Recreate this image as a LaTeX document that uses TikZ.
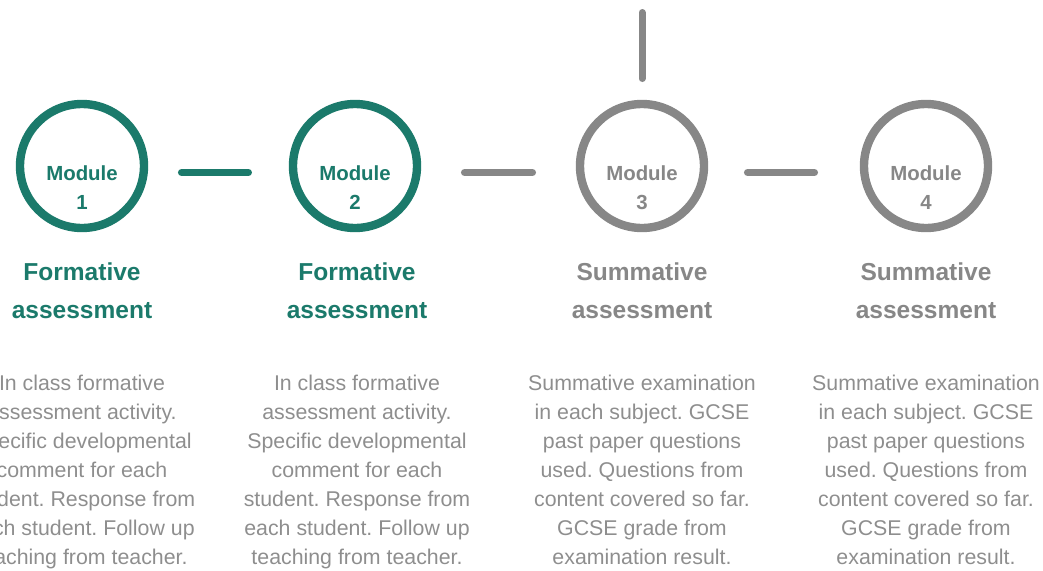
\documentclass[tikz,border=0pt]{standalone}
\usepackage{fontspec}
\setmainfont{Liberation Sans}
\usetikzlibrary{positioning}
\frenchspacing
\definecolor{modteal}{HTML}{1B7A6B}
\definecolor{modgrey}{HTML}{878787}
\definecolor{blurbgrey}{HTML}{8E8E8E}
\tikzset{
  ring/.style={circle, draw=#1, line width=6.3pt, minimum size=93pt, inner sep=0pt, outer sep=0pt},
  link/.style={draw=#1, line width=5.25pt, line cap=round},
  modlabel/.style={text=#1, font=\fontsize{15.3pt}{21.75pt}\selectfont\bfseries, align=center, inner sep=0pt, anchor=north},
  heading/.style={text=#1, font=\fontsize{18.4pt}{28.5pt}\selectfont\bfseries, align=center, inner sep=0pt, anchor=north},
  blurb/.style={text=blurbgrey, font=\fontsize{16pt}{21.75pt}\selectfont, align=center, inner sep=0pt, anchor=north}
}
\begin{document}
\begin{tikzpicture}[x=0.75pt, y=-0.75pt]
\useasboundingbox (0,0) rectangle (1043,571);
\clip (0,0) rectangle (1043,571);
\node[ring=modteal] (m1) at (82,166) {};
\node[ring=modteal] (m2) at (355,166) {};
\node[ring=modgrey] (m3) at (642,166) {};
\node[ring=modgrey] (m4) at (926,166) {};
\node[modlabel=modteal] (n1) at (82,165) {Module\\1};
\node[modlabel=modteal] (n2) at (355,165) {Module\\2};
\node[modlabel=modgrey] (n3) at (642,165) {Module\\3};
\node[modlabel=modgrey] (n4) at (926,165) {Module\\4};
\node[heading=modteal] (h1) at (82,262) {Formative\\assessment};
\node[heading=modteal] (h2) at (357,262) {Formative\\assessment};
\node[heading=modgrey] (h3) at (642,262) {Summative\\assessment};
\node[heading=modgrey] (h4) at (926,262) {Summative\\assessment};
\node[blurb] (b1) at (82,375) {In class formative\\assessment activity.\\Specific developmental\\comment for each\\student. Response from\\each student. Follow up\\teaching from teacher.};
\node[blurb] (b2) at (357,375) {In class formative\\assessment activity.\\Specific developmental\\comment for each\\student. Response from\\each student. Follow up\\teaching from teacher.};
\node[blurb] (b3) at (642,375) {Summative examination\\in each subject. GCSE\\past paper questions\\used. Questions from\\content covered so far.\\GCSE grade from\\examination result.};
\node[blurb] (b4) at (926,375) {Summative examination\\in each subject. GCSE\\past paper questions\\used. Questions from\\content covered so far.\\GCSE grade from\\examination result.};
\coordinate (top) at (642,12.5);
\draw[link=modteal, shorten <=28.1pt, shorten >=33.4pt] ([yshift=-4.9pt]m1.east) -- ([yshift=-4.9pt]m2.west);
\draw[link=modgrey, shorten <=35.6pt, shorten >=35.6pt] ([yshift=-4.9pt]m2.east) -- ([yshift=-4.9pt]m3.west);
\draw[link=modgrey, shorten <=32.6pt, shorten >=37.1pt] ([yshift=-4.9pt]m3.east) -- ([yshift=-4.9pt]m4.west);
\draw[link=modgrey, shorten <=19.1pt] (m3.north) -- (top);
\end{tikzpicture}
\end{document}
